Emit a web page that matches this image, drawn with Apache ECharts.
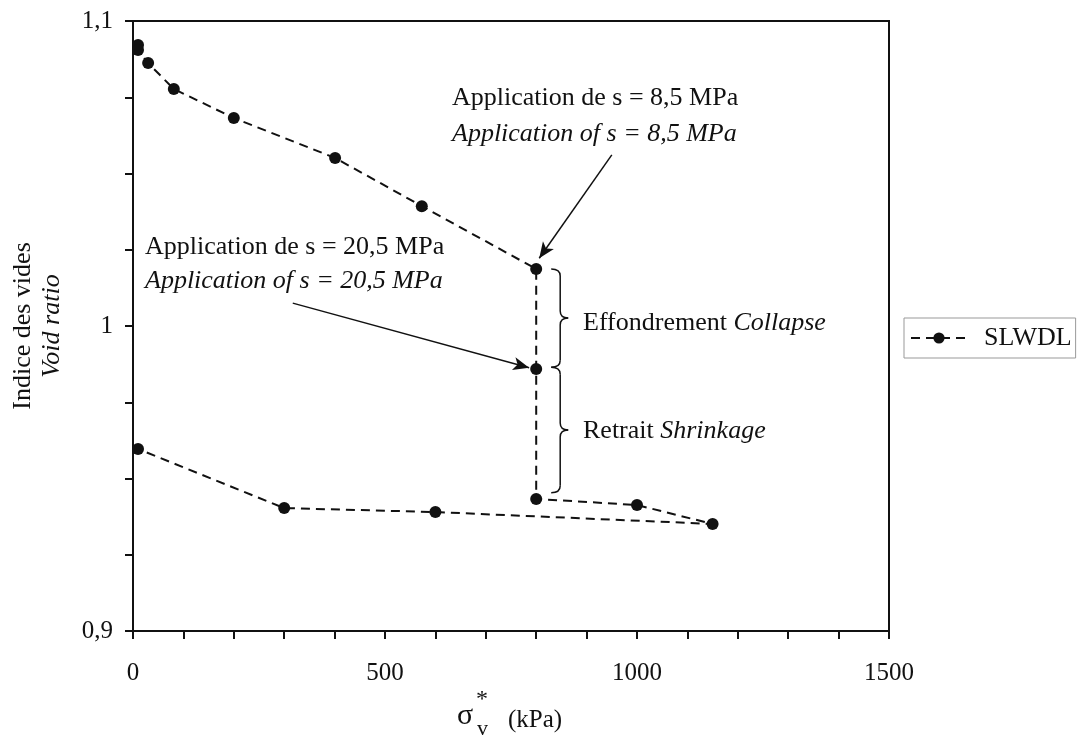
<!DOCTYPE html>
<html>
<head>
<meta charset="utf-8">
<script src="https://cdn.jsdelivr.net/npm/echarts@6/dist/echarts.min.js"></script>
<style>
  html, body { margin: 0; padding: 0; background: #fff; }
  #chart { width: 1077px; height: 738px; }
</style>
</head>
<body>
<div id="chart"></div>
<script>
// stress (kPa) and void ratio, in test order
var stress = [10, 10, 30, 81, 200, 401, 573, 800, 800, 800, 1000, 1150, 600, 300, 10];
var voidRatio = [1.0921, 1.0905, 1.0862, 1.0777, 1.0682, 1.0551, 1.0393, 1.0187, 0.9859, 0.9433, 0.9413, 0.9351, 0.9390, 0.9403, 0.9597];
var seriesName = 'SLWDL';
var xTicks = [0, 500, 1000, 1500];
var yTicks = [0.9, 1.0, 1.1];

var FONT = '"Liberation Serif", "Times New Roman", serif';

var chart = echarts.init(document.getElementById('chart'));

var points = stress.map(function (x, i) { return [x, voidRatio[i]]; });

function fmtComma(v) {
    return String(Math.round(v * 10) / 10).replace('.', ',');
}

var option = {
    animation: false,
    backgroundColor: '#fff',
    grid: {
        left: 133, right: 188, top: 21, bottom: 107,
        show: true, borderColor: '#111', borderWidth: 2
    },
    legend: {
        data: [seriesName],
        left: 904, top: 318,
        orient: 'vertical',
        itemWidth: 56, itemHeight: 14,
        padding: [7, 4, 7, 6],
        borderColor: '#999', borderWidth: 1,
        textStyle: { fontFamily: FONT, fontSize: 26, color: '#111', padding: [0, 0, 0, 12] }
    },
    xAxis: {
        type: 'value',
        min: 0, max: 1500, interval: 100,
        axisLine: { lineStyle: { color: '#111', width: 2 } },
        axisTick: { length: 8, lineStyle: { color: '#111', width: 2 } },
        splitLine: { show: false },
        axisLabel: {
            margin: 30, fontFamily: FONT, fontSize: 25, color: '#111',
            formatter: function (v) { return xTicks.indexOf(v) >= 0 ? String(v) : ''; }
        }
    },
    yAxis: {
        type: 'value',
        min: 0.9, max: 1.1, interval: 0.025,
        axisLine: { lineStyle: { color: '#111', width: 2 } },
        axisTick: { length: 8, lineStyle: { color: '#111', width: 2 } },
        splitLine: { show: false },
        axisLabel: {
            margin: 20, fontFamily: FONT, fontSize: 25, color: '#111',
            formatter: function (v) {
                var r = Math.round(v * 1000);
                return r % 100 === 0 ? fmtComma(v) : '';
            }
        },
        name: '{a|Indice des vides}\n{b|Void ratio}',
        nameLocation: 'middle',
        nameRotate: 90,
        nameGap: 66,
        nameTextStyle: {
            fontFamily: FONT, fontSize: 26, color: '#111', lineHeight: 29,
            rich: {
                a: { fontFamily: FONT, fontSize: 26, color: '#111', lineHeight: 29 },
                b: { fontFamily: FONT, fontSize: 26, color: '#111', lineHeight: 29, fontStyle: 'italic' }
            }
        }
    },
    series: [{
        name: seriesName,
        type: 'line',
        data: points,
        symbol: 'circle',
        symbolSize: 12,
        itemStyle: { color: '#111' },
        lineStyle: { color: '#111', width: 2, type: [9, 6] },
        markLine: {
            silent: true,
            animation: false,
            label: { show: false },
            lineStyle: { color: '#111', width: 1.5, type: 'solid' },
            symbolSize: [10, 16],
            data: [
                [{ coord: [950, 1.0561], symbol: 'none' }, { coord: [806, 1.0222], symbol: 'arrow' }],
                [{ coord: [317, 1.0075], symbol: 'none' }, { coord: [786, 0.9863], symbol: 'arrow' }]
            ]
        }
    }]
};

chart.setOption(option);

// curly brace beside the vertical drop at 800 kPa, built from simple pieces
function brace(yTop, yBot) {
    var p = chart.convertToPixel({ gridIndex: 0 }, [800, yTop]);
    var q = chart.convertToPixel({ gridIndex: 0 }, [800, yBot]);
    var x0 = p[0] + 15, x1 = p[0] + 24, x2 = p[0] + 32;
    var t = p[1], b = q[1], m = (t + b) / 2;
    var st = { fill: null, stroke: '#111', lineWidth: 1.5 };
    return [
        { type: 'bezierCurve', shape: { x1: x0, y1: t, cpx1: x1, cpy1: t, x2: x1, y2: t + 7 }, style: st },
        { type: 'line', shape: { x1: x1, y1: t + 7, x2: x1, y2: m - 7 }, style: st },
        { type: 'bezierCurve', shape: { x1: x1, y1: m - 7, cpx1: x1, cpy1: m, x2: x2, y2: m }, style: st },
        { type: 'bezierCurve', shape: { x1: x2, y1: m, cpx1: x1, cpy1: m, x2: x1, y2: m + 7 }, style: st },
        { type: 'line', shape: { x1: x1, y1: m + 7, x2: x1, y2: b - 7 }, style: st },
        { type: 'bezierCurve', shape: { x1: x1, y1: b - 7, cpx1: x1, cpy1: b, x2: x0, y2: b }, style: st }
    ];
}

function label(x, y, text) {
    return {
        type: 'text', left: x, top: y,
        style: {
            text: text, fill: '#111',
            font: '26px ' + FONT,
            rich: { i: { fontStyle: 'italic', fontFamily: FONT, fontSize: 26, fill: '#111' } }
        }
    };
}

var elements = [].concat(
    brace(1.0187, 0.9865),
    brace(0.9865, 0.9453),
    [
        label(452, 85, 'Application de s = 8,5 MPa'),
        label(452, 121, '{i|Application of s = 8,5 MPa}'),
        label(145, 234, 'Application de s = 20,5 MPa'),
        label(145, 268, '{i|Application of s = 20,5 MPa}'),
        label(583, 310, 'Effondrement {i|Collapse}'),
        label(583, 418, 'Retrait {i|Shrinkage}'),
        { type: 'text', left: 457, top: 701, style: { text: 'σ', fill: '#111', font: '30px ' + FONT } },
        { type: 'text', left: 476, top: 688, style: { text: '*', fill: '#111', font: '24px ' + FONT } },
        { type: 'text', left: 477, top: 718, style: { text: 'v', fill: '#111', font: '22px ' + FONT } },
        { type: 'text', left: 508, top: 708, style: { text: '(kPa)', fill: '#111', font: '25px ' + FONT } }
    ]
);

chart.setOption({ graphic: elements });
</script>
</body>
</html>
